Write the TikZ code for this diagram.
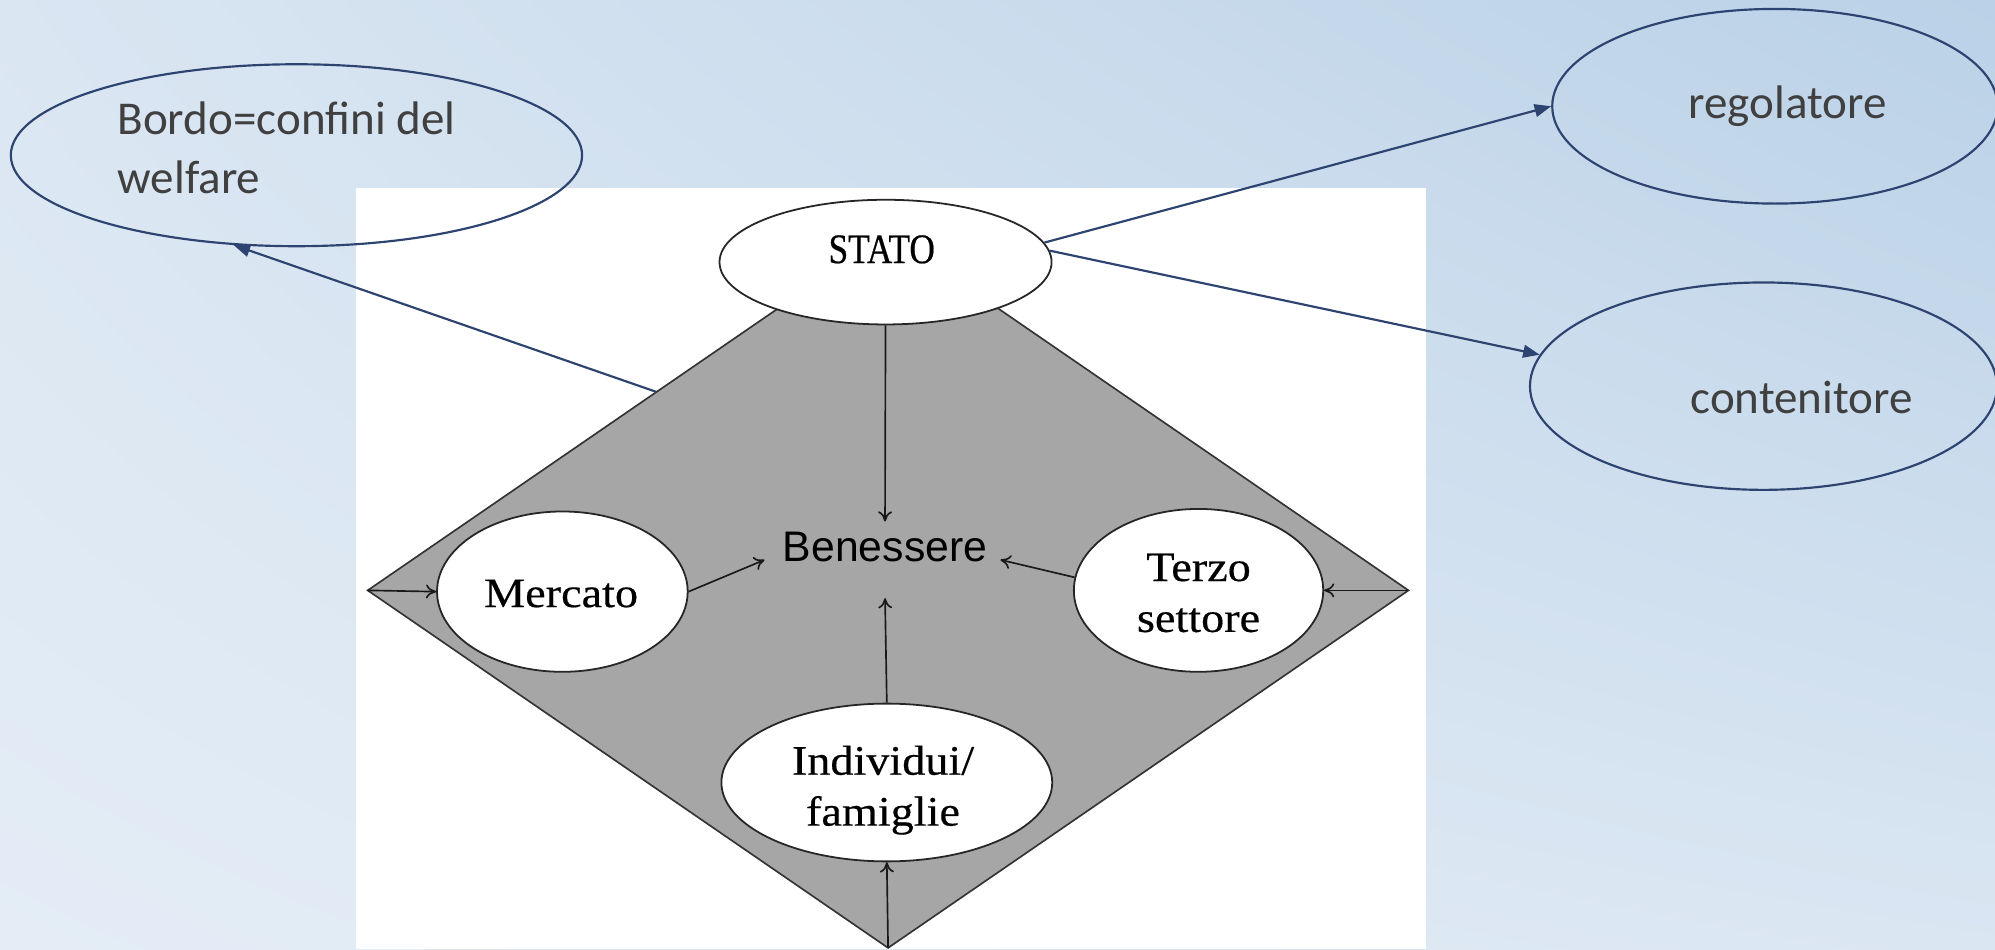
\documentclass[tikz,border=0pt]{standalone}
\usepackage{fontspec}
\setmainfont{Liberation Serif}
\newfontfamily\calib{Carlito}
\newfontfamily\arialf{Liberation Sans}
\newfontfamily\statof[FakeStretch=0.84,FakeBold=0.5]{Liberation Serif}
\newfontfamily\serwide[FakeStretch=1.1,FakeBold=0.4]{Liberation Serif}
\usetikzlibrary{arrows.meta,shapes.geometric,shadings}
\definecolor{navy}{HTML}{2E4470}
\definecolor{txtgray}{HTML}{404040}
\definecolor{diagray}{HTML}{A6A6A6}
\definecolor{bgUL}{HTML}{DAE6F2}
\definecolor{bgUR}{HTML}{BAD1E7}
\definecolor{bgLL}{HTML}{E4EDF6}
\definecolor{bgLR}{HTML}{DAE6F2}
\begin{document}
\begin{tikzpicture}[x=0.5pt,y=-0.5pt,
  blueell/.style={ellipse,draw=navy,line width=0.85pt,inner sep=0pt},
  whiteell/.style={ellipse,draw=black!85,fill=white,line width=0.7pt,inner sep=0pt},
  bluetxt/.style={font=\calib\fontsize{18.5}{23}\selectfont,text=txtgray,inner sep=0pt},
  sertxt/.style={font=\serwide\fontsize{16.5}{20}\selectfont,align=center,inner sep=0pt},
  blk/.style={-{To[length=4pt,width=5.5pt]},line width=0.65pt,black!90},
  blu/.style={-{Triangle[length=6.5pt,width=5pt]},line width=0.85pt,navy}]
\useasboundingbox (0,0) rectangle (1568,746);
\shade[upper left=bgUL,upper right=bgUR,lower left=bgLL,lower right=bgLR] (0,0) rectangle (1568,746);
\fill[white] (280,148) rectangle (1121,746);
% diamond
\coordinate (L) at (289,464);
\coordinate (T) at (698,183);
\coordinate (R) at (1107,464);
\coordinate (B) at (698,745);
\draw[fill=diagray,draw=black!80,line width=0.65pt] (L) -- (T) -- (R) -- (B) -- cycle;
\path (L) -- (T) coordinate[pos=0.555] (bstart);
% white ellipses
\node[whiteell,minimum width=130.5pt,minimum height=49pt] (stato) at (696,206) {};
\node[font=\statof\fontsize{16.5}{20}\selectfont,inner sep=0pt] (statot) at (693,196) {STATO};
\node[whiteell,minimum width=98.5pt,minimum height=63pt] (merc) at (442,465) {};
\node[sertxt] (merct) at (441,466.5) {Mercato};
\node[whiteell,minimum width=98pt,minimum height=64pt] (terzo) at (942,464) {};
\node[sertxt] (terzot) at (942,466) {Terzo\\settore};
\node[whiteell,minimum width=130pt,minimum height=62pt] (indiv) at (697,615) {};
\node[sertxt] (indivt) at (694,621) {Individui/\\famiglie};
\node[font=\arialf\fontsize{16.8}{20}\selectfont,inner sep=0pt] (benes) at (695.6,430) {Benessere};
% black arrows
\draw[blk] (stato.south) -- ([yshift=4pt]benes.north);
\draw[blk] (merc.east) -- ([xshift=-7pt,yshift=-5pt]benes.west);
\draw[blk] (terzo.174) -- ([xshift=5pt,yshift=-5pt]benes.east);
\draw[blk] (indiv.north) -- ([yshift=-14pt]benes.south);
\draw[blk] (B) -- (indiv.south);
\draw[blk] (L) -- (merc.west);
\draw[blk] (R) -- (terzo.east);
% blue ellipses
\node[blueell,minimum width=224.5pt,minimum height=71.5pt] (bordo) at (233,122) {};
\node[bluetxt,align=left,anchor=north west] (bordot) at (92,80) {Bordo=confini del\\welfare};
\node[blueell,minimum width=175pt,minimum height=76.5pt] (regol) at (1395,83.5) {};
\node[bluetxt,anchor=base] (regolt) at (1405,93) {regolatore};
\node[blueell,minimum width=183.5pt,minimum height=81.5pt] (conten) at (1386,303.5) {};
\node[bluetxt,anchor=base] (content) at (1416,325) {contenitore};
% blue arrows
\draw[blu] (bstart) -- (bordo.235);
\draw[blu] (stato.7) -- (regol.west);
\draw[blu] (stato.4) -- (conten.172);
\end{tikzpicture}
\end{document}
